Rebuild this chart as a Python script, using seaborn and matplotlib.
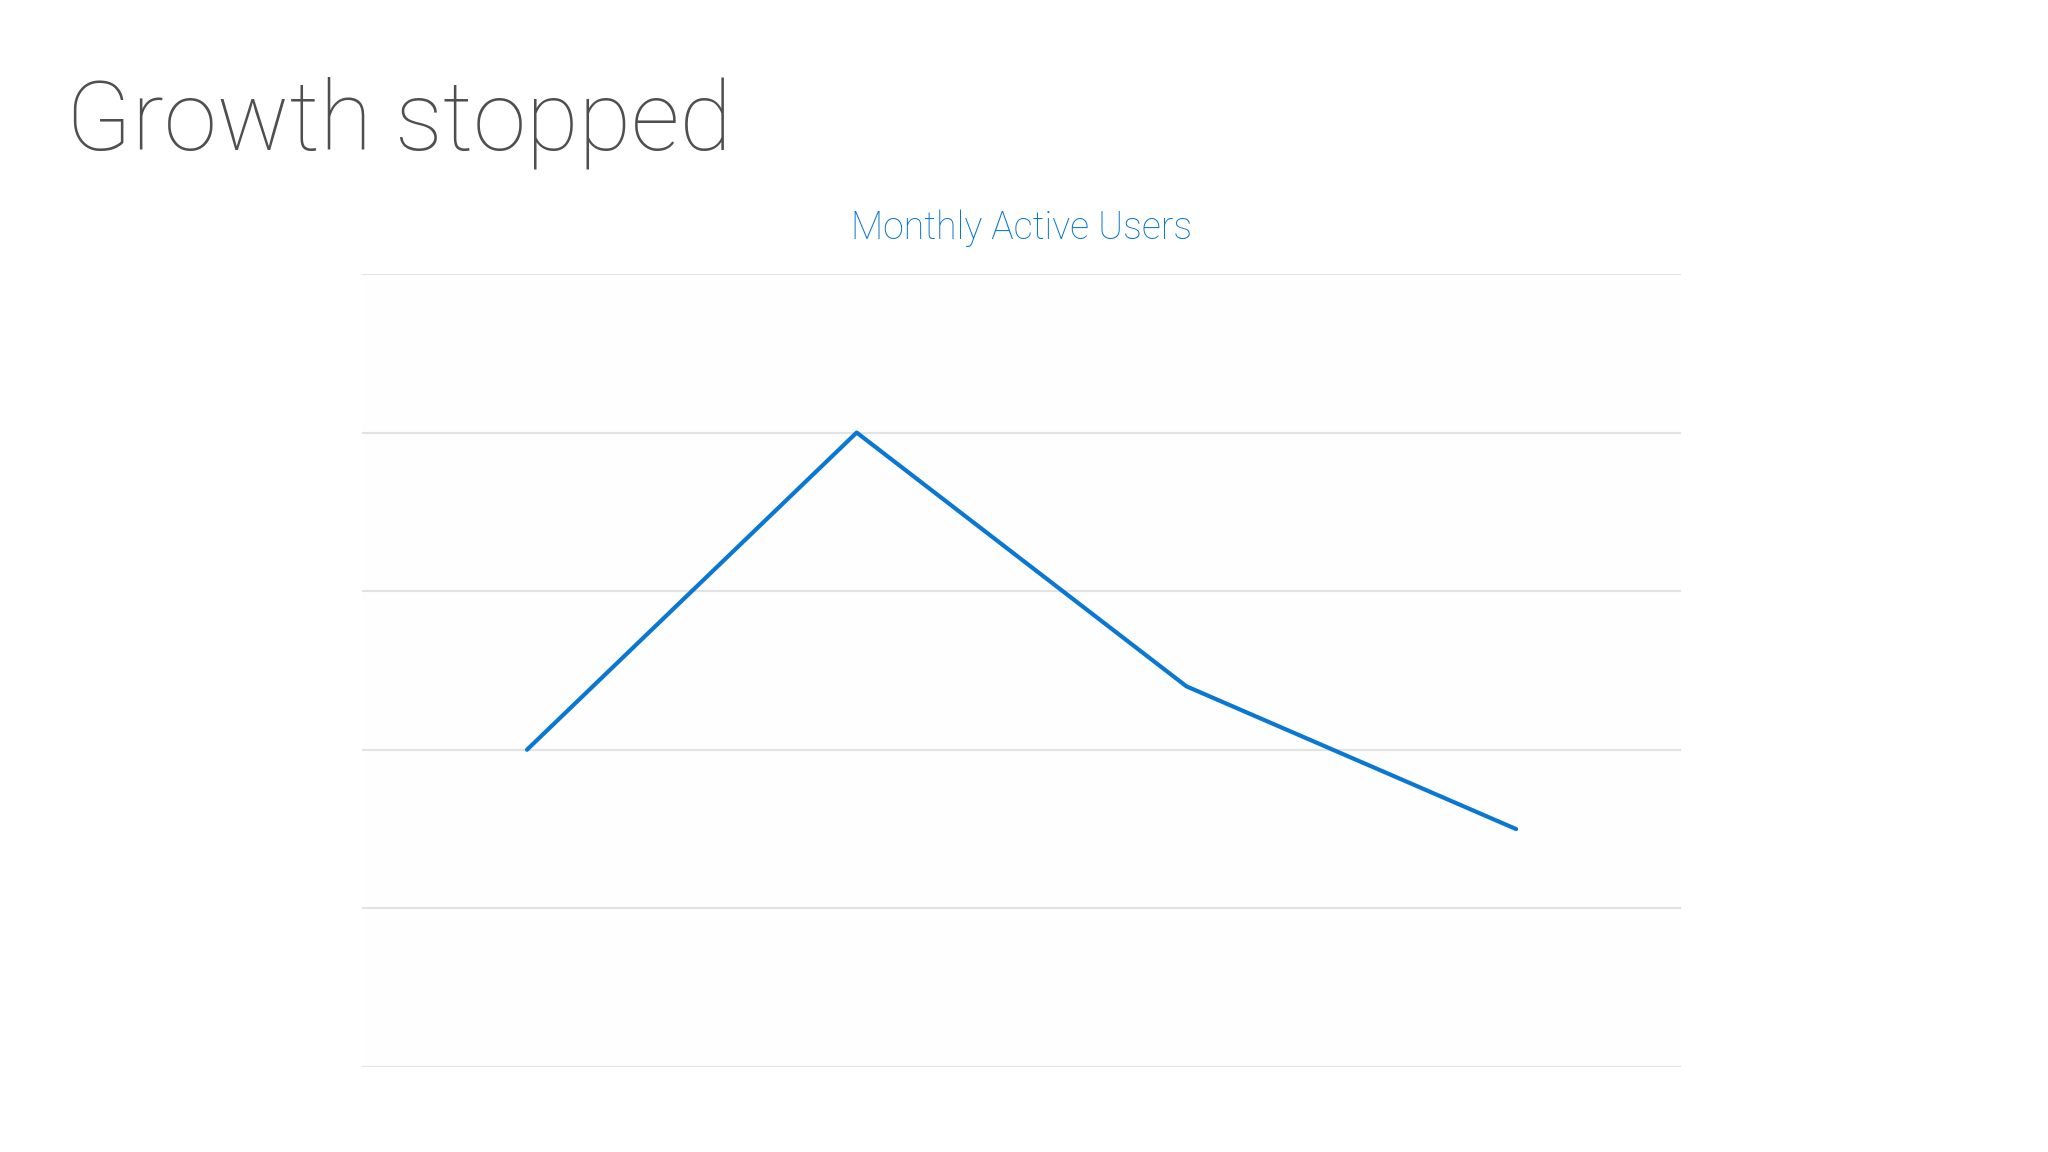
import pandas as pd
import matplotlib.pyplot as plt
import seaborn as sns

# monthly active users (in gridline units)
months = ['Month 1', 'Month 2', 'Month 3', 'Month 4']
users = [2.0, 4.0, 2.4, 1.5]
y_ticks = [0, 1, 2, 3, 4, 5]

df = pd.DataFrame({'month': months, 'users': users})

sns.set_theme(style='white')
plt.rcParams['font.family'] = ['Roboto', 'DejaVu Sans']

fig = plt.figure(figsize=(20.48, 11.52), dpi=100)
fig.patch.set_facecolor('white')
ax = fig.add_axes([0.1768, 0.0738, 0.644, 0.6884])

sns.lineplot(data=df, x='month', y='users', ax=ax, color='#0A78D2',
             linewidth=3, sort=False, solid_capstyle='round')

ax.set_xlim(-0.5, len(months) - 0.5)
ax.set_ylim(y_ticks[0], y_ticks[-1])
ax.set_yticks(y_ticks)
ax.yaxis.grid(True, color='#E3E3E3', linewidth=1.5)
ax.xaxis.grid(False)
ax.set_axisbelow(True)
for s in ax.spines.values():
    s.set_visible(False)
ax.tick_params(left=False, bottom=False, labelleft=False, labelbottom=False)
ax.set_xlabel('')
ax.set_ylabel('')
ax.set_facecolor('#FEFEFE')

ax.set_title('Monthly Active Users', color='#0675D0', fontsize=27,
             fontweight='light', pad=25)

fig.text(0.032, 0.87, 'Growth stopped', color='#4F4F4F', fontsize=69,
         fontweight='light', va='baseline', ha='left')

fig.savefig('out.png', dpi=100, facecolor='white')
